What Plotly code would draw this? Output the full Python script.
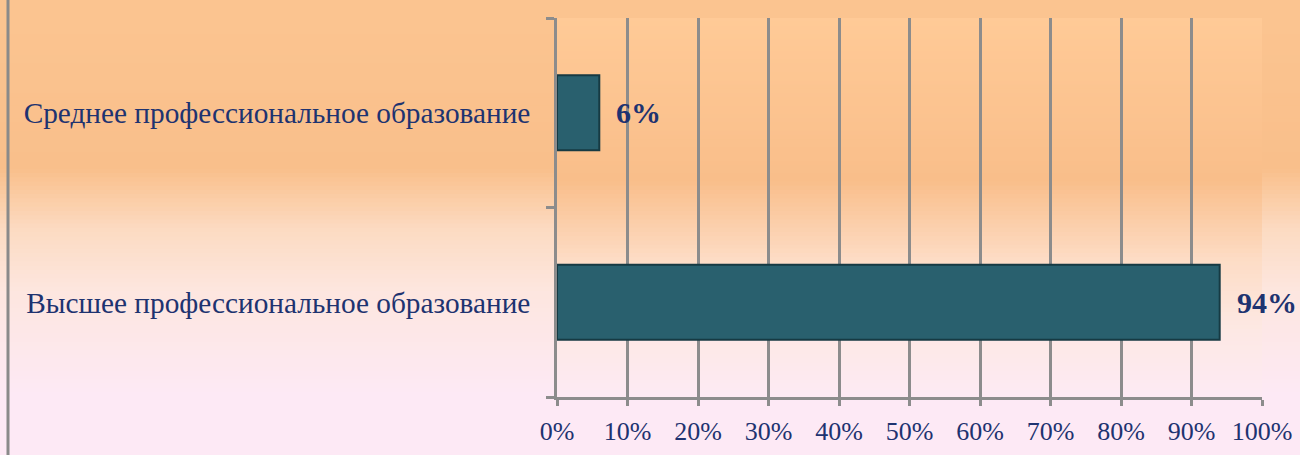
import plotly.graph_objects as go

categories = ["Высшее профессиональное образование", "Среднее профессиональное образование"]
values = [0.94, 0.06]
value_labels = ["94%", "6%"]
x_ticks = [0, 0.1, 0.2, 0.3, 0.4, 0.5, 0.6, 0.7, 0.8, 0.9, 1.0]
x_tick_labels = ["0%", "10%", "20%", "30%", "40%", "50%", "60%", "70%", "80%", "90%", "100%"]

TEXT = "#1E3370"
GRID = "#8C8C8C"


def interp(stops, t):
    for (t0, c0), (t1, c1) in zip(stops, stops[1:]):
        if t0 <= t <= t1:
            f = 0 if t1 == t0 else (t - t0) / (t1 - t0)
            return tuple(round(a + (b - a) * f) for a, b in zip(c0, c1))
    return stops[-1][1]


outer_stops = [(0.0, (251, 196, 144)), (0.40, (249, 191, 139)), (0.56, (252, 219, 194)),
               (0.72, (253, 230, 223)), (1.0, (253, 233, 245))]
plot_stops = [(0.0, (255, 202, 151)), (0.43, (249, 190, 138)), (0.64, (253, 220, 197)),
              (0.82, (253, 232, 227)), (1.0, (253, 234, 244))]

shapes = []
N = 90
for i in range(N):
    t = (i + 0.5) / N
    r, g, b = interp(outer_stops, t)
    shapes.append(dict(type="rect", xref="paper", yref="paper", x0=-1, x1=2,
                       y0=1 - i / N + 0.002, y1=1 - (i + 1) / N - 0.002 if i < N - 1 else -1,
                       fillcolor=f"rgb({r},{g},{b})", line=dict(width=0), layer="below"))
    if i == 0:
        shapes[-1]["y0"] = 2
for i in range(N):
    t = (i + 0.5) / N
    r, g, b = interp(plot_stops, t)
    shapes.append(dict(type="rect", xref="x domain", yref="y domain", x0=0, x1=1,
                       y0=1 - i / N + (0 if i == 0 else 0.002), y1=1 - (i + 1) / N - (0.002 if i < N - 1 else 0),
                       fillcolor=f"rgb({r},{g},{b})", line=dict(width=0), layer="below"))
# left frame line
shapes.append(dict(type="line", xref="paper", yref="paper", x0=-549 / 705, x1=-549 / 705, y0=-1, y1=2,
                   line=dict(color="#8A8A8A", width=3), layer="above"))

fig = go.Figure()
fig.add_trace(go.Bar(
    y=categories, x=values, orientation="h",
    marker=dict(color="#29606E", line=dict(color="#163A43", width=2)),
    width=0.395, hoverinfo="skip", showlegend=False,
))

annotations = []
for c, v, lab in zip(categories, values, value_labels):
    annotations.append(dict(x=v, y=c, xref="x", yref="y", text=f"<b>{lab}</b>", showarrow=False,
                            xanchor="left", yanchor="middle", xshift=15,
                            font=dict(family="Liberation Serif", size=30, color=TEXT)))

fig.update_layout(
    width=1300, height=455,
    margin=dict(l=557, r=38, t=18, b=58),
    paper_bgcolor="rgba(0,0,0,0)", plot_bgcolor="rgba(0,0,0,0)",
    shapes=shapes, annotations=annotations,
    xaxis=dict(range=[0, 1], tickvals=x_ticks, ticktext=x_tick_labels, automargin=False,
               showgrid=True, gridcolor=GRID, gridwidth=2.5,
               showline=True, linecolor=GRID, linewidth=2.5,
               ticks="outside", ticklen=6, tickwidth=2.5, tickcolor=GRID,
               ticklabelstandoff=3, zeroline=False,
               tickfont=dict(family="Liberation Serif", size=26, color=TEXT)),
    yaxis=dict(categoryorder="array", categoryarray=categories, automargin=False,
               showgrid=False, showline=True, linecolor=GRID, linewidth=2.5,
               ticks="outside", ticklen=8, tickwidth=2.5, tickcolor=GRID, tickson="boundaries",
               ticklabelstandoff=18,
               tickfont=dict(family="Liberation Serif", size=29.3, color=TEXT)),
)

fig.write_html("out.html", config={"displayModeBar": False},
               post_script="document.body.style.margin='0';document.body.style.overflow='hidden';")
